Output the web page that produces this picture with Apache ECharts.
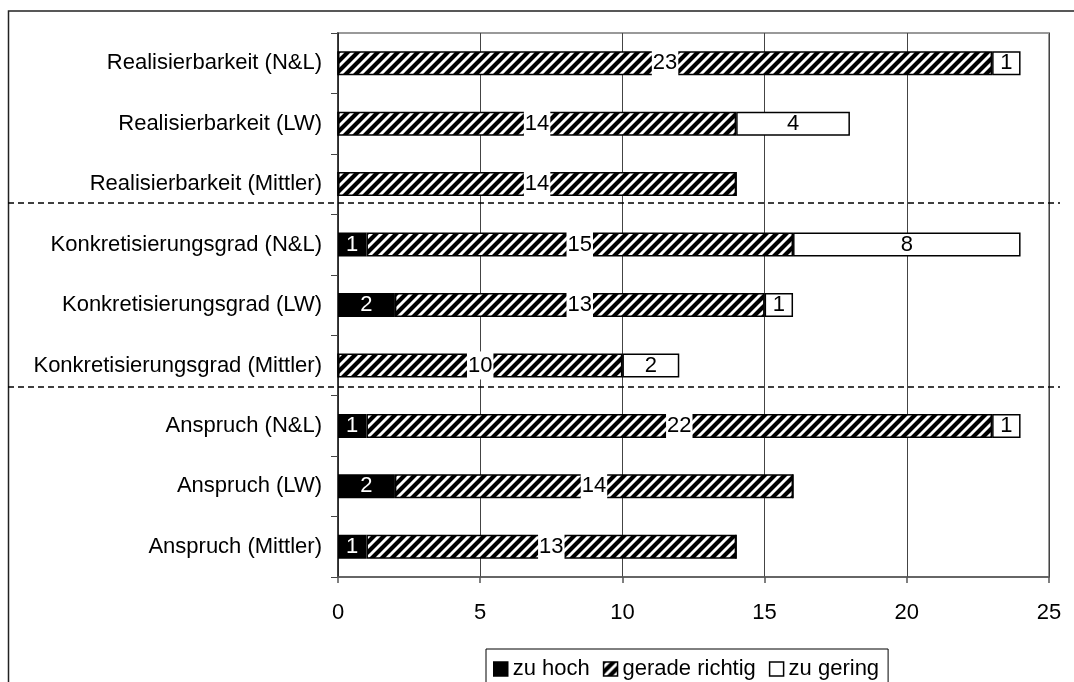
<!DOCTYPE html>
<html>
<head>
<meta charset="utf-8">
<script src="https://cdn.jsdelivr.net/npm/echarts@6/dist/echarts.min.js"></script>
<style>
  html, body { margin: 0; padding: 0; background: #fff; }
  #chart { width: 1074px; height: 682px; }
</style>
</head>
<body>
<div id="chart"></div>
<script>
// Categories, top to bottom
const categories = [
  'Realisierbarkeit (N&L)',
  'Realisierbarkeit (LW)',
  'Realisierbarkeit (Mittler)',
  'Konkretisierungsgrad (N&L)',
  'Konkretisierungsgrad (LW)',
  'Konkretisierungsgrad (Mittler)',
  'Anspruch (N&L)',
  'Anspruch (LW)',
  'Anspruch (Mittler)'
];
const zuHoch        = [0, 0, 0, 1, 2, 0, 1, 2, 1];
const geradeRichtig = [23, 14, 14, 15, 13, 10, 22, 14, 13];
const zuGering      = [1, 4, 0, 8, 1, 2, 1, 0, 0];
const xTicks = { min: 0, max: 25, interval: 5 };

const FONT = '"Liberation Sans", Arial, sans-serif';

// Diagonal hatch tile for the "gerade richtig" segments
function hatchTile() {
  const s = 10;
  const c = document.createElement('canvas');
  c.width = s; c.height = s;
  const g = c.getContext('2d');
  g.fillStyle = '#fff';
  g.fillRect(0, 0, s, s);
  g.strokeStyle = '#000';
  g.lineWidth = 4.2;
  g.beginPath();
  g.moveTo(-s, s); g.lineTo(s, -s);
  g.moveTo(0, s); g.lineTo(s, 0);
  g.moveTo(0, 2 * s); g.lineTo(2 * s, 0);
  g.stroke();
  return c;
}
const hatch = { image: hatchTile(), repeat: 'repeat' };

function items(arr, labelExtra) {
  return arr.map(v => ({ value: v, label: Object.assign({ show: v > 0 }, labelExtra) }));
}

const chart = echarts.init(document.getElementById('chart'), null, { renderer: 'canvas' });

const barCommon = {
  type: 'bar',
  stack: 'total',
  barWidth: 24,
  emphasis: { disabled: true },
  label: { position: 'inside', fontFamily: FONT, fontSize: 22 }
};

chart.setOption({
  backgroundColor: '#fff',
  animation: false,
  grid: {
    left: 338, right: 25, top: 33, bottom: 105,
    show: true, borderColor: '#999', borderWidth: 2, backgroundColor: 'transparent'
  },
  xAxis: {
    type: 'value',
    min: xTicks.min, max: xTicks.max, interval: xTicks.interval,
    axisLine: { show: true, lineStyle: { color: '#555', width: 1.5 } },
    axisTick: { show: true, length: 6, lineStyle: { color: '#555', width: 1.5 } },
    splitLine: { show: true, lineStyle: { color: '#444', width: 1 } },
    axisLabel: { color: '#000', fontFamily: FONT, fontSize: 22, margin: 25 }
  },
  yAxis: {
    type: 'category',
    inverse: true,
    data: categories,
    axisLine: { show: true, lineStyle: { color: '#222', width: 1.5 } },
    axisTick: { show: true, length: 7, lineStyle: { color: '#444', width: 1 } },
    axisLabel: { color: '#000', fontFamily: FONT, fontSize: 22, margin: 16 }
  },
  legend: {
    left: 486, top: 649,
    icon: 'rect',
    itemWidth: 14, itemHeight: 14, itemGap: 13,
    padding: [9, 9, 30, 7],
    borderColor: '#000', borderWidth: 1,
    itemStyle: { borderColor: '#000', borderWidth: 1.5 },
    textStyle: { color: '#000', fontFamily: FONT, fontSize: 22, padding: [0, 0, 0, 0] },
    data: ['zu hoch', 'gerade richtig', 'zu gering']
  },
  series: [
    Object.assign({}, barCommon, {
      name: 'zu hoch',
      itemStyle: { color: '#000', borderColor: '#000', borderWidth: 1.5 },
      data: items(zuHoch, { color: '#fff' })
    }),
    Object.assign({}, barCommon, {
      name: 'gerade richtig',
      itemStyle: { color: hatch, borderColor: '#000', borderWidth: 1.5 },
      data: items(geradeRichtig, { color: '#000', backgroundColor: '#fff', padding: [4, 1, 2, 1] })
    }),
    Object.assign({}, barCommon, {
      name: 'zu gering',
      itemStyle: { color: '#fff', borderColor: '#000', borderWidth: 1.5 },
      data: items(zuGering, { color: '#000' })
    })
  ],
  graphic: [
    // outer chart frame
    { type: 'rect', silent: true, z: 100,
      shape: { x: 8.5, y: 11, width: 1100, height: 700 },
      style: { fill: 'none', stroke: '#222', lineWidth: 1.5 } },
    // group separators
    { type: 'line', silent: true, z: 100,
      shape: { x1: 8, y1: 203, x2: 1060, y2: 203 },
      style: { stroke: '#000', lineWidth: 1.5, lineDash: [6, 4] } },
    { type: 'line', silent: true, z: 100,
      shape: { x1: 8, y1: 387, x2: 1060, y2: 387 },
      style: { stroke: '#000', lineWidth: 1.5, lineDash: [6, 4] } }
  ]
});
</script>
</body>
</html>
